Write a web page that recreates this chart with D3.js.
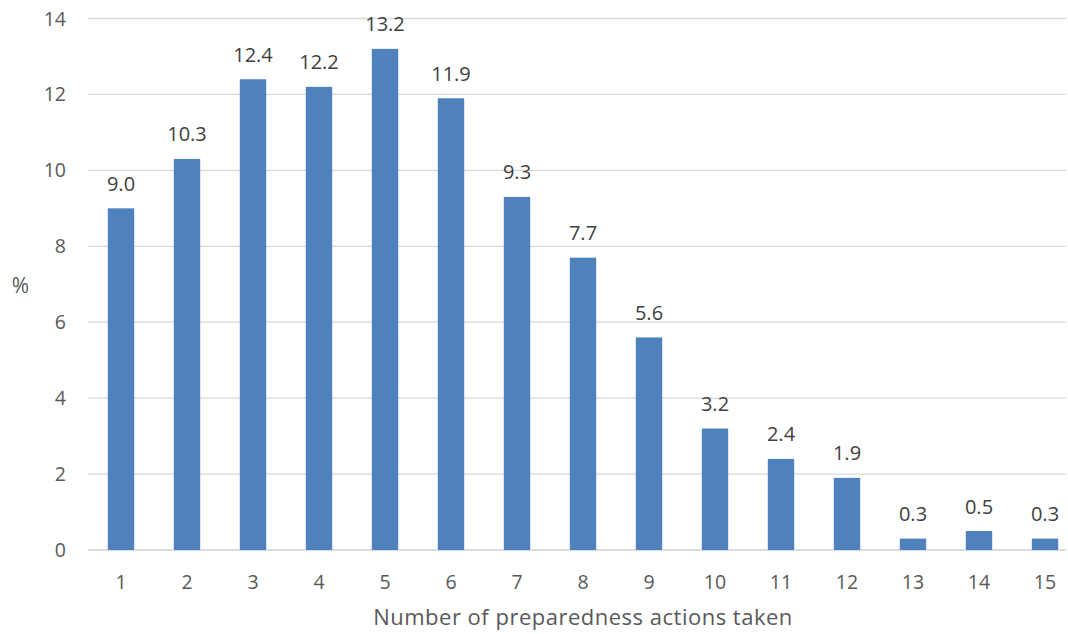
<!DOCTYPE html>
<html>
<head>
<meta charset="utf-8">
<script src="https://cdn.jsdelivr.net/npm/d3@7/dist/d3.min.js"></script>
<style>
  html, body { margin: 0; padding: 0; background: #fff; }
  svg { display: block; font-family: "Open Sans", Lato, sans-serif; }
</style>
</head>
<body>
<svg id="chart" width="1068" height="634"></svg>
<script>
// Share of respondents by number of preparedness actions taken
const categories = ["1","2","3","4","5","6","7","8","9","10","11","12","13","14","15"];
const values = [9.0, 10.3, 12.4, 12.2, 13.2, 11.9, 9.3, 7.7, 5.6, 3.2, 2.4, 1.9, 0.3, 0.5, 0.3];
const yTicks = [0, 2, 4, 6, 8, 10, 12, 14];
const xTitle = "Number of preparedness actions taken";
const yTitle = "%";

const svg = d3.select("#chart");
const plotLeft = 88, plotRight = 1078, plotTop = 18.5, plotBottom = 550;

const x = d3.scaleBand().domain(categories).range([plotLeft, plotRight]).paddingInner(0.6).paddingOuter(0.3);
const y = d3.scaleLinear().domain([0, 14]).range([plotBottom, plotTop]);

// gridlines
svg.append("g")
  .selectAll("line")
  .data(yTicks)
  .join("line")
  .attr("x1", plotLeft).attr("x2", 1066)
  .attr("y1", d => y(d)).attr("y2", d => y(d))
  .attr("stroke", d => d === 0 ? "#d0d0d0" : "#d9d9d9")
  .attr("stroke-width", 1.3);

// y tick labels
svg.append("g")
  .selectAll("text")
  .data(yTicks)
  .join("text")
  .attr("x", 66).attr("y", d => y(d))
  .attr("dy", "0.36em")
  .attr("text-anchor", "end")
  .attr("font-size", 19.5)
  .attr("fill", "#595959")
  .text(d => d);

// bars
svg.append("g")
  .selectAll("rect")
  .data(values)
  .join("rect")
  .attr("x", (d, i) => x(categories[i]))
  .attr("width", x.bandwidth())
  .attr("y", d => y(d))
  .attr("height", d => y(0) - y(d))
  .attr("fill", "#4f81bd");

// value labels
svg.append("g")
  .selectAll("text")
  .data(values)
  .join("text")
  .attr("x", (d, i) => x(categories[i]) + x.bandwidth() / 2)
  .attr("y", d => y(d) - 17.5)
  .attr("text-anchor", "middle")
  .attr("font-size", 20)
  .attr("fill", "#404040")
  .text(d => d.toFixed(1));

// x tick labels
svg.append("g")
  .selectAll("text")
  .data(categories)
  .join("text")
  .attr("x", d => x(d) + x.bandwidth() / 2)
  .attr("y", 588.5)
  .attr("text-anchor", "middle")
  .attr("font-size", 19.5)
  .attr("fill", "#595959")
  .text(d => d);

// axis titles
svg.append("text")
  .attr("x", 583).attr("y", 625)
  .attr("text-anchor", "middle")
  .attr("font-size", 22)
  .attr("letter-spacing", 0.5)
  .attr("fill", "#595959")
  .text(xTitle);

svg.append("text")
  .attr("x", 20.5).attr("y", 293)
  .attr("text-anchor", "middle")
  .attr("font-size", 21)
  .attr("fill", "#595959")
  .text(yTitle);
</script>
</body>
</html>
